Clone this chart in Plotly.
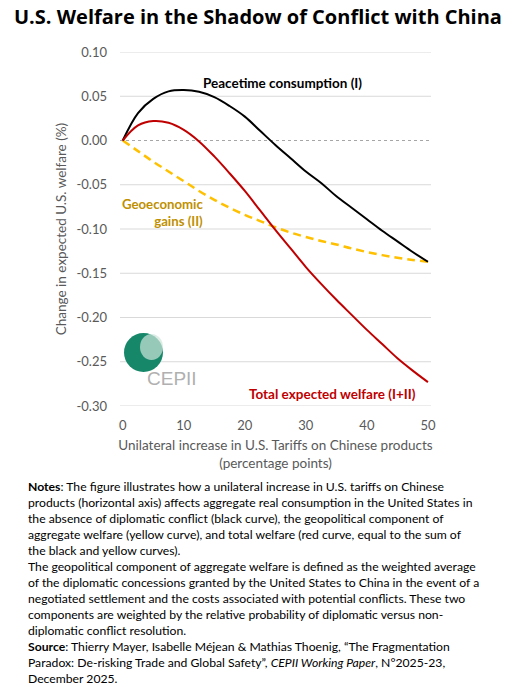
import plotly.graph_objects as go

# data
tariff = [0, 2.5, 5, 7.5, 10, 12.5, 15, 17.5, 20, 22.5, 25,
          27.5, 30, 32.5, 35, 37.5, 40, 42.5, 45, 47.5, 50]
peacetime = [0, 0.031, 0.047, 0.0555, 0.057, 0.055, 0.049, 0.039, 0.027, 0.011, -0.005,
             -0.020, -0.035, -0.048, -0.063, -0.076, -0.089, -0.102, -0.114, -0.126, -0.137]
geoeconomic = [0, -0.012, -0.024, -0.035, -0.046, -0.057, -0.067, -0.076, -0.084, -0.091, -0.098,
               -0.104, -0.109, -0.1135, -0.1175, -0.122, -0.126, -0.1295, -0.1325, -0.135, -0.137]
total = [0, 0.017, 0.022, 0.020, 0.012, -0.001, -0.018, -0.037, -0.057, -0.079, -0.101,
         -0.122, -0.143, -0.162, -0.180, -0.197, -0.214, -0.230, -0.246, -0.260, -0.273]

y_ticks = [0.10, 0.05, 0.00, -0.05, -0.10, -0.15, -0.20, -0.25, -0.30]
y_labels = ["0.10", "0.05", "0.00", "-0.05", "-0.10", "-0.15", "-0.20", "-0.25", "-0.30"]
x_ticks = [0, 10, 20, 30, 40, 50]

notes = [
    "<b>Notes</b>: The figure illustrates how a unilateral increase in U.S. tariffs on Chinese",
    "products (horizontal axis) affects aggregate real consumption in the United States in",
    "the absence of diplomatic conflict (black curve), the geopolitical component of",
    "aggregate welfare (yellow curve), and total welfare (red curve, equal to the sum of",
    "the black and yellow curves).",
    "The geopolitical component of aggregate welfare is defined as the weighted average",
    "of the diplomatic concessions granted by the United States to China in the event of a",
    "negotiated settlement and the costs associated with potential conflicts. These two",
    "components are weighted by the relative probability of diplomatic versus non-",
    "diplomatic conflict resolution.",
    "<b>Source</b>: Thierry Mayer, Isabelle Méjean &amp; Mathias Thoenig, \u201cThe Fragmentation",
    "Paradox: De-risking Trade and Global Safety\u201d, <i>CEPII Working Paper</i>, N°2025-23,",
    "December 2025.",
]

BODY = "Lato"
GRAY = "#595959"
PW, PH = 311, 354          # plot area size in px
PL, PB = 120, 406          # plot area left / bottom in px


def px_x(x):
    return (x - PL) / PW


def px_y(y):
    return (PB - y) / PH


fig = go.Figure()

# gridlines (zero line dotted)
for v in y_ticks:
    fig.add_shape(type="line", xref="paper", x0=0, x1=1, yref="y", y0=v, y1=v,
                  line=dict(color="#a6a6a6" if v == 0 else "#d9d9d9",
                            width=1, dash="dot" if v == 0 else "solid"),
                  layer="below")

fig.add_trace(go.Scatter(x=tariff, y=geoeconomic, mode="lines", line_shape="spline",
                         line=dict(color="#FFC000", width=2.5, dash="8px,5px")))
fig.add_trace(go.Scatter(x=tariff, y=peacetime, mode="lines", line_shape="spline",
                         line=dict(color="black", width=2)))
fig.add_trace(go.Scatter(x=tariff, y=total, mode="lines", line_shape="spline",
                         line=dict(color="#C00000", width=2)))

# curve labels
fig.add_annotation(x=26.1, y=0.0654, text="<b>Peacetime consumption (I)</b>", showarrow=False,
                   font=dict(family=BODY, size=13.5, color="black"))
fig.add_annotation(x=13.5, y=-0.081, text="<b>Geoeconomic<br>gains (II)</b>", showarrow=False,
                   xanchor="right", align="right",
                   font=dict(family=BODY, size=13.2, color="#BF9000"))
fig.add_annotation(x=34.3, y=-0.2868, text="<b>Total expected welfare (I+II)</b>", showarrow=False,
                   font=dict(family=BODY, size=13.5, color="#C00000"))

# CEPII logo
fig.add_shape(type="circle", xref="paper", yref="paper",
              x0=px_x(124), x1=px_x(163), y0=px_y(372), y1=px_y(333),
              fillcolor="#17876a", line=dict(color="#17876a", width=0))
fig.add_shape(type="circle", xref="paper", yref="paper",
              x0=px_x(140), x1=px_x(163), y0=px_y(360), y1=px_y(334),
              fillcolor="#cfe6dc", opacity=0.7, line=dict(width=0))
fig.add_annotation(xref="paper", yref="paper", x=px_x(145), y=px_y(391),
                   text="CEPII", showarrow=False,
                   font=dict(family="Liberation Sans Narrow, Liberation Sans", size=19, color="#b0b0b0"))

# title
fig.add_annotation(xref="paper", yref="paper", x=px_x(12), y=px_y(16),
                   xanchor="left", yanchor="middle",
                   text="<b>U.S. Welfare in the Shadow of Conflict with China</b>",
                   showarrow=False, font=dict(family="Open Sans", size=20, color="black"))

# notes
for i, line in enumerate(notes):
    fig.add_annotation(xref="paper", yref="paper", x=px_x(26),
                       y=px_y(486.7 + 16.0 * i),
                       xanchor="left", yanchor="middle", text=line, showarrow=False,
                       font=dict(family=BODY, size=12.2, color="black"))

fig.update_layout(
    width=515, height=687,
    margin=dict(l=PL, r=515 - PL - PW, t=PB - PH, b=687 - PB, autoexpand=False),
    paper_bgcolor="white", plot_bgcolor="white",
    showlegend=False,
    xaxis=dict(range=[-0.45, 50.5], tickvals=x_ticks, showgrid=False, zeroline=False,
               showline=False, ticks="", ticklabelstandoff=10,
               tickfont=dict(family=BODY, size=13, color=GRAY),
               title=dict(text="Unilateral increase in U.S. Tariffs on Chinese products<br>(percentage points)",
                          font=dict(family=BODY, size=13.5, color=GRAY), standoff=8)),
    yaxis=dict(range=[-0.30, 0.10], tickvals=y_ticks, ticktext=y_labels, showgrid=False,
               zeroline=False, showline=False, ticks="", ticklabelstandoff=12,
               tickfont=dict(family=BODY, size=13, color=GRAY),
               title=dict(text="Change in expected U.S. welfare (%)",
                          font=dict(family=BODY, size=13.5, color=GRAY), standoff=6)),
)

# drop the default page margin so the figure fills the window, and hide the modebar
fig.write_html("out.html", config={"displayModeBar": False},
               post_script="document.body.style.margin='0';")
